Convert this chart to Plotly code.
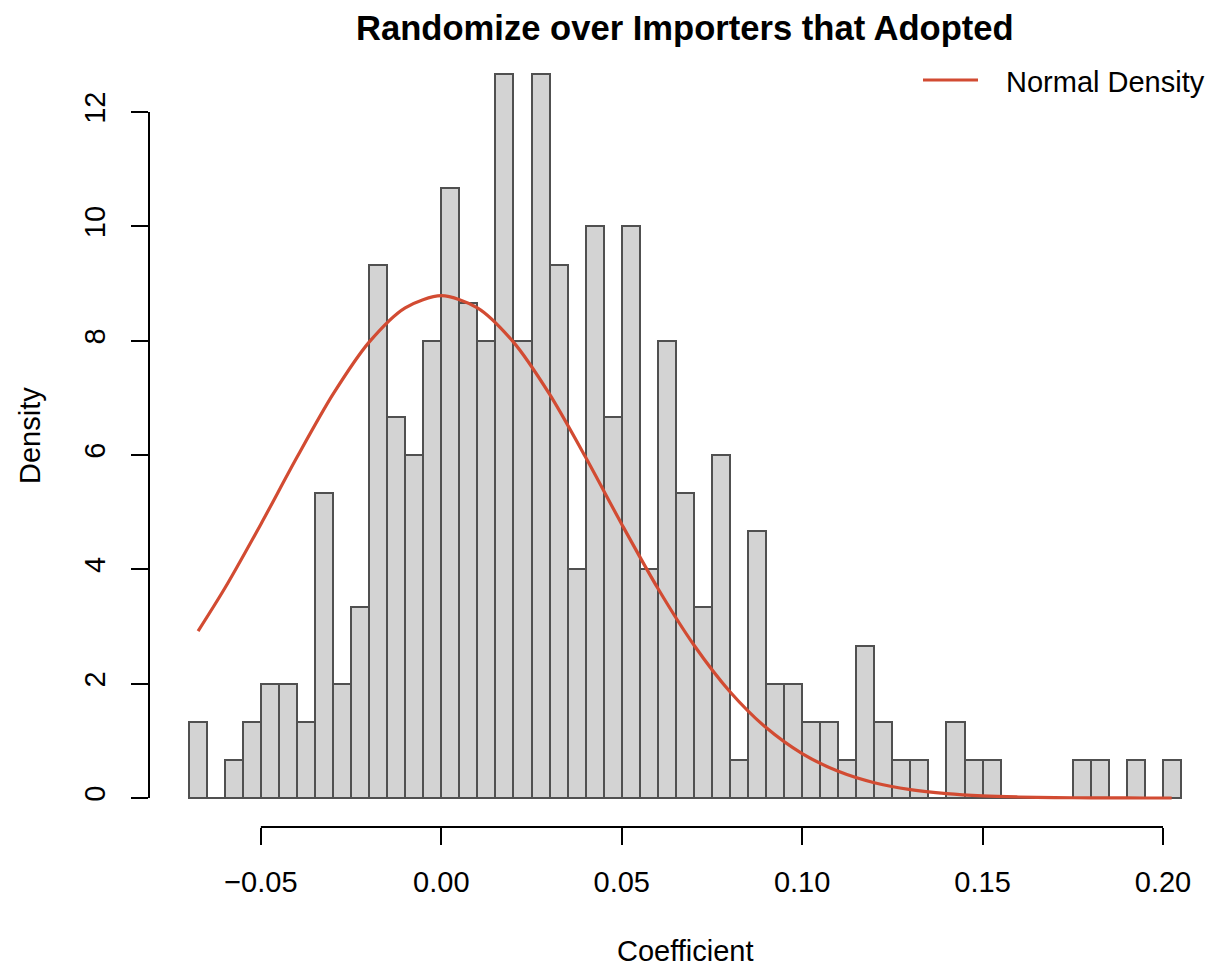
import plotly.graph_objects as go

# ---- data ----
bin_left = [round(-0.070 + 0.005 * i, 3) for i in range(55)]
bin_width = 0.005
density = [
    1.333, 0.0, 0.667, 1.333, 2.0, 2.0, 1.333, 5.333, 2.0, 3.333,
    9.333, 6.667, 6.0, 8.0, 10.667, 8.667, 8.0, 12.667, 8.0, 12.667,
    9.333, 4.0, 10.0, 6.667, 10.0, 4.0, 8.0, 5.333, 3.333, 6.0,
    0.667, 4.667, 2.0, 2.0, 1.333, 1.333, 0.667, 2.667, 1.333, 0.667,
    0.667, 0.0, 1.333, 0.667, 0.667, 0.0, 0.0, 0.0, 0.0, 0.667,
    0.667, 0.0, 0.667, 0.0, 0.667,
]
curve_x = [-0.0674, -0.06, -0.05, -0.04, -0.03, -0.02, -0.01, 0.0, 0.01, 0.02,
           0.03, 0.04, 0.05, 0.06, 0.07, 0.08, 0.09, 0.10, 0.11, 0.12,
           0.13, 0.14, 0.15, 0.16, 0.17, 0.18, 0.19, 0.20, 0.2024]
curve_y = [2.919, 3.669, 4.791, 5.960, 7.064, 7.975, 8.576, 8.787, 8.576, 7.975,
           7.064, 5.960, 4.791, 3.669, 2.677, 1.860, 1.232, 0.777, 0.467, 0.267,
           0.146, 0.076, 0.037, 0.018, 0.008, 0.003, 0.001, 0.0005, 0.0004]
x_ticks = [-0.05, 0.00, 0.05, 0.10, 0.15, 0.20]
x_tick_text = ["\u22120.05", "0.00", "0.05", "0.10", "0.15", "0.20"]
y_ticks = [0, 2, 4, 6, 8, 10, 12]

title = "Randomize over Importers that Adopted"
x_title = "Coefficient"
y_title = "Density"
legend_label = "Normal Density"

# ---- layout constants ----
W, H = 1211, 966
L, R, T, B = 149, 0, 45, 139
FONT = "Liberation Sans, Arial, Helvetica, sans-serif"
FS = 29
CURVE_COLOR = "#D24B32"
BORDER = "#505050"

x_range = [-0.081, 0.2133]
y_range = [-0.507, 13.173]

pw = W - L - R
ph = H - T - B


def px_to_paper_x(px):
    return (px - L) / pw


def px_to_paper_y(py):
    return (H - B - py) / ph


centers = [b + bin_width / 2 for b in bin_left]

fig = go.Figure()
fig.add_trace(go.Bar(
    x=centers, y=density, width=[bin_width] * len(centers),
    marker=dict(color="#D3D3D3", line=dict(color=BORDER, width=2)),
    showlegend=False, hoverinfo="skip",
))
# bottom edge of the histogram (also shows empty bins as flat lines)
fig.add_trace(go.Scatter(
    x=[bin_left[0], bin_left[-1] + bin_width], y=[0, 0], mode="lines",
    line=dict(color=BORDER, width=2), showlegend=False, hoverinfo="skip",
))
fig.add_trace(go.Scatter(
    x=curve_x, y=curve_y, mode="lines", name=legend_label,
    line=dict(color=CURVE_COLOR, width=3.2, shape="spline", smoothing=0.8),
    showlegend=False,
))

shapes = [
    # x axis line (spans tick range only, like R)
    dict(type="line", xref="x", yref="paper", x0=x_ticks[0], x1=x_ticks[-1], y0=0, y1=0,
         line=dict(color="black", width=2)),
    # y axis line
    dict(type="line", xref="paper", yref="y", x0=0, x1=0, y0=y_ticks[0], y1=y_ticks[-1],
         line=dict(color="black", width=2)),
    # legend line
    dict(type="line", xref="paper", yref="paper",
         x0=px_to_paper_x(923), x1=px_to_paper_x(978),
         y0=px_to_paper_y(80), y1=px_to_paper_y(80),
         line=dict(color=CURVE_COLOR, width=3.2)),
]

annotations = [
    dict(text="<b>" + title + "</b>", xref="paper", yref="paper",
         x=px_to_paper_x(685), y=1, yshift=17, xanchor="center", yanchor="middle",
         showarrow=False, font=dict(size=34.6, color="black", family=FONT)),
    dict(text=x_title, xref="paper", yref="paper",
         x=px_to_paper_x(685), y=0, yshift=-(951 - (H - B)), xanchor="center", yanchor="middle",
         showarrow=False, font=dict(size=FS, color="black", family=FONT)),
    dict(text=y_title, xref="paper", yref="paper",
         x=0, xshift=-(L - 30), y=0.5, xanchor="center", yanchor="middle", textangle=-90,
         showarrow=False, font=dict(size=FS, color="black", family=FONT)),
    dict(text=legend_label, xref="paper", yref="paper",
         x=px_to_paper_x(1004), y=px_to_paper_y(82), xanchor="left", yanchor="middle",
         showarrow=False, font=dict(size=FS, color="black", family=FONT)),
]

fig.update_layout(
    width=W, height=H,
    margin=dict(l=L, r=R, t=T, b=B, pad=0),
    paper_bgcolor="white", plot_bgcolor="white",
    bargap=0,
    showlegend=False,
    font=dict(family=FONT, size=FS, color="black"),
    shapes=shapes, annotations=annotations,
    xaxis=dict(range=x_range, showgrid=False, zeroline=False, showline=False,
               tickmode="array", tickvals=x_ticks, ticktext=x_tick_text,
               ticks="outside", ticklen=17, tickwidth=2, tickcolor="black",
               ticklabelstandoff=12, tickfont=dict(size=FS, family=FONT, color="black")),
    yaxis=dict(range=y_range, showgrid=False, zeroline=False, showline=False,
               tickmode="array", tickvals=y_ticks, ticktext=[str(v) for v in y_ticks],
               ticks="outside", ticklen=17, tickwidth=2, tickcolor="black",
               tickangle=-90, ticklabelstandoff=14,
               tickfont=dict(size=FS, family=FONT, color="black")),
)

fig.write_html("out.html")
